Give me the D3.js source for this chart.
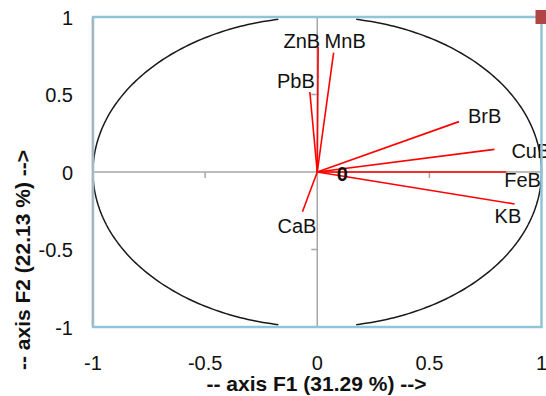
<!DOCTYPE html>
<html>
<head>
<meta charset="utf-8">
<script src="https://cdn.jsdelivr.net/npm/d3@7"></script>
<style>
  html, body { margin: 0; padding: 0; background: #fff; }
  svg { display: block; }
  text { font-family: "Liberation Sans", Arial, sans-serif; }
</style>
</head>
<body>
<svg id="chart" width="546" height="396"></svg>
<script>
// ---- data ----
const variables = ["ZnB", "MnB", "PbB", "BrB", "CuB", "FeB", "KB", "CaB"];
const f1 = [0.004, 0.073, -0.033, 0.632, 0.79, 0.843, 0.88, -0.066];
const f2 = [0.806, 0.77, 0.516, 0.325, 0.146, 0.0, -0.206, -0.256];
const xTicks = [-1, -0.5, 0, 0.5, 1];
const yTicks = [-1, -0.5, 0, 0.5, 1];
const xTickLabels = ["-1", "-0.5", "0", "0.5", "1"];
const yTickLabels = ["-1", "-0.5", "0", "0.5", "1"];
const xTitle = "-- axis F1 (31.29 %) -->";
const yTitle = "-- axis F2 (22.13 %) -->";
const originLabel = "0";

// ---- layout ----
const svg = d3.select("#chart");
const x = d3.scaleLinear().domain([-1, 1]).range([93, 541.5]);
const y = d3.scaleLinear().domain([-1, 1]).range([327, 17]);

// label placement (anchor, dx, dy in px relative to vector end)
const labelPlace = {
  ZnB: ["end", 2, 1],
  MnB: ["start", -9, -5],
  PbB: ["end", 5, -4],
  BrB: ["start", 9, 1],
  CuB: ["start", 17, 9],
  FeB: ["start", -2, 15],
  KB:  ["start", -20, 19],
  CaB: ["start", -25, 21]
};

// correlation circle (gaps near top and bottom)
const arcLine = d3.line().x(d => x(Math.cos(d))).y(d => y(Math.sin(d)));
const seg = (a0, a1) => d3.range(a0, a1 + 0.0001, 1).map(a => a * Math.PI / 180);
svg.append("path").attr("d", arcLine(seg(-80, 80)))
  .attr("fill", "none").attr("stroke", "#1a1a1a").attr("stroke-width", 1.5);
svg.append("path").attr("d", arcLine(seg(100, 260)))
  .attr("fill", "none").attr("stroke", "#1a1a1a").attr("stroke-width", 1.5);

// axes through origin
const axisCol = "#a6a6a6";
svg.append("line").attr("x1", x(-1)).attr("x2", x(1)).attr("y1", y(0)).attr("y2", y(0))
  .attr("stroke", axisCol).attr("stroke-width", 1.5);
svg.append("line").attr("x1", x(0)).attr("x2", x(0)).attr("y1", y(1)).attr("y2", y(-1))
  .attr("stroke", axisCol).attr("stroke-width", 1.5);
// tick marks
svg.selectAll(".xt").data(xTicks.filter(d => Math.abs(d) === 0.5)).enter().append("line")
  .attr("x1", d => x(d)).attr("x2", d => x(d)).attr("y1", y(0)).attr("y2", y(0) + 6)
  .attr("stroke", axisCol).attr("stroke-width", 1.5);
svg.selectAll(".yt").data(yTicks.filter(d => Math.abs(d) === 0.5)).enter().append("line")
  .attr("x1", x(0) - 6).attr("x2", x(0)).attr("y1", d => y(d)).attr("y2", d => y(d))
  .attr("stroke", axisCol).attr("stroke-width", 1.5);

// vectors
const data = variables.map((v, i) => ({ name: v, a: f1[i], b: f2[i] }));
svg.selectAll(".vec").data(data).enter().append("line")
  .attr("x1", x(0)).attr("y1", y(0))
  .attr("x2", d => x(d.a)).attr("y2", d => y(d.b))
  .attr("stroke", "#ff0000").attr("stroke-width", 1.6);

// vector labels
svg.selectAll(".lab").data(data).enter().append("text")
  .attr("x", d => x(d.a) + labelPlace[d.name][1])
  .attr("y", d => y(d.b) + labelPlace[d.name][2])
  .attr("text-anchor", d => labelPlace[d.name][0])
  .attr("font-size", 20).attr("fill", "#111")
  .text(d => d.name);

// origin label
svg.append("text").attr("x", x(0) + 25).attr("y", y(0) + 8.5)
  .attr("text-anchor", "middle").attr("font-size", 20).attr("font-weight", "bold")
  .attr("fill", "#111").text(originLabel);

// plot border
svg.append("rect").attr("x", x(-1)).attr("y", y(1))
  .attr("width", x(1) - x(-1)).attr("height", y(-1) - y(1))
  .attr("fill", "none").attr("stroke", "#92c4d9").attr("stroke-width", 2.5);
svg.append("line").attr("x1", x(-1) - 0.5).attr("x2", x(-1) - 0.5)
  .attr("y1", y(1) + 1).attr("y2", y(-1) - 1)
  .attr("stroke", "#b0b0b0").attr("stroke-width", 1.5);

// marker at (1,1)
svg.append("rect").attr("x", x(1) - 6).attr("y", y(1) - 7).attr("width", 13).attr("height", 14)
  .attr("fill", "#b04545");

// tick labels
svg.selectAll(".xl").data(xTicks).enter().append("text")
  .attr("x", d => x(d)).attr("y", 370)
  .attr("text-anchor", "middle").attr("font-size", 20).attr("fill", "#111")
  .text((d, i) => xTickLabels[i]);
svg.selectAll(".yl").data(yTicks).enter().append("text")
  .attr("x", 73).attr("y", d => y(d) + 7.5)
  .attr("text-anchor", "end").attr("font-size", 20).attr("fill", "#111")
  .text((d, i) => yTickLabels[i]);

// axis titles
svg.append("text").attr("x", 316.5).attr("y", 391)
  .attr("text-anchor", "middle").attr("font-size", 21).attr("font-weight", "bold")
  .attr("fill", "#111").text(xTitle);
svg.append("text").attr("transform", "translate(30,260) rotate(-90)")
  .attr("text-anchor", "middle").attr("font-size", 21).attr("font-weight", "bold")
  .attr("fill", "#111").text(yTitle);
</script>
</body>
</html>
